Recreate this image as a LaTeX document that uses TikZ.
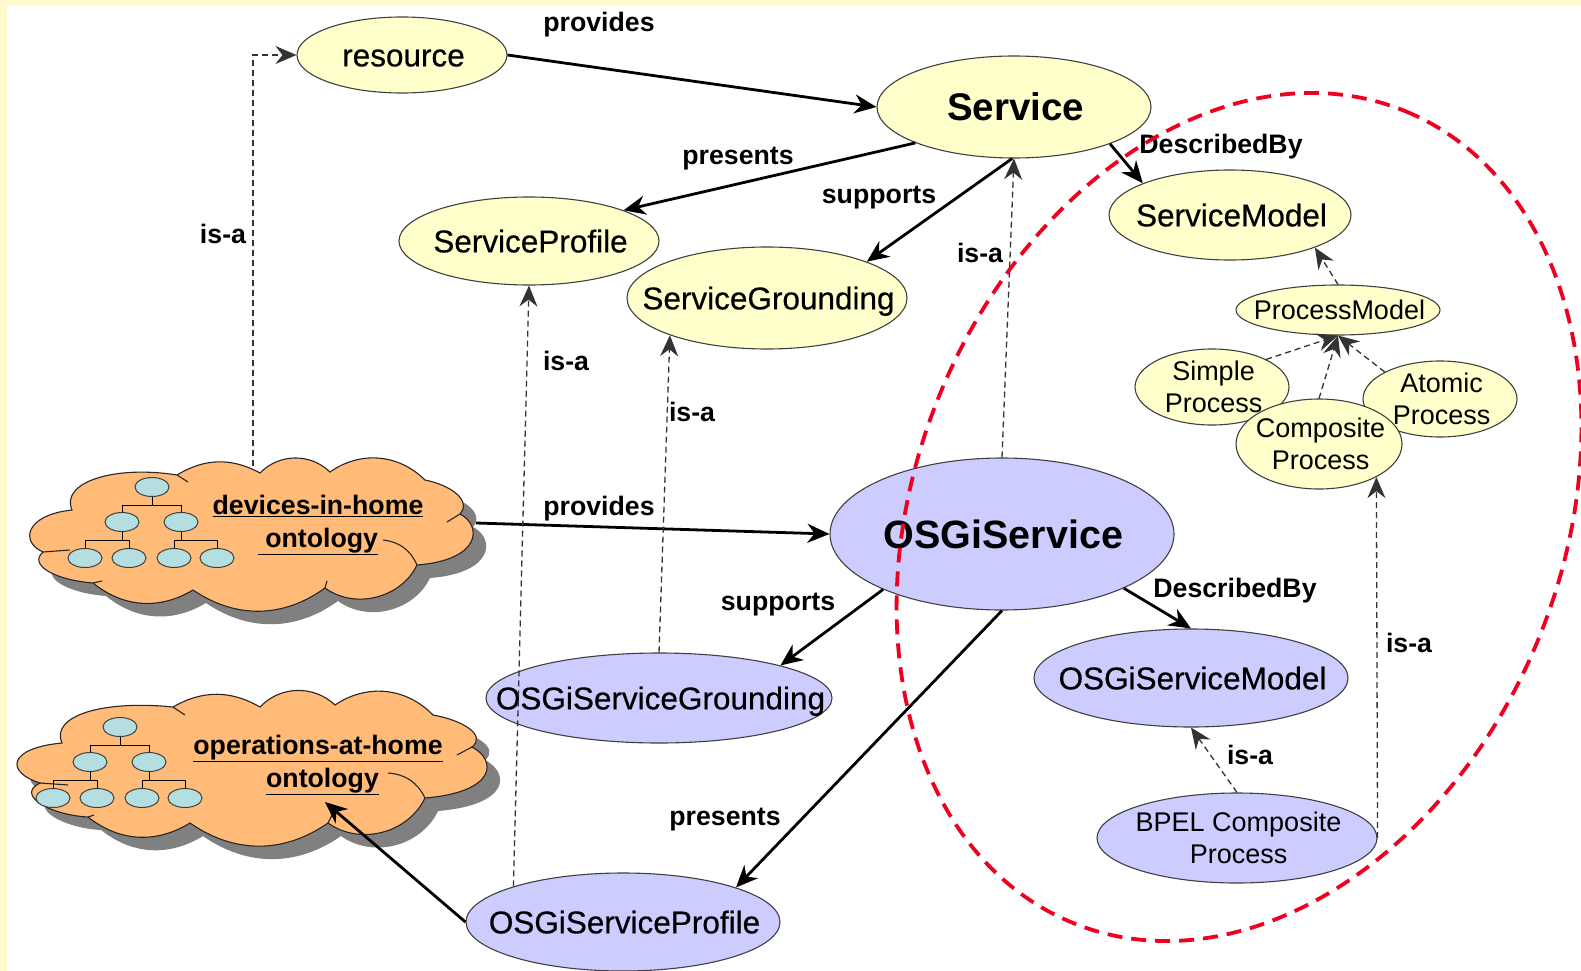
\documentclass[tikz,border=0pt]{standalone}
\usepackage{fontspec}
\setmainfont{Liberation Sans}
\newfontfamily\heavyfont[FakeBold=0.5]{Liberation Sans}
\usetikzlibrary{arrows.meta,shapes.geometric}
\definecolor{pageyellow}{HTML}{FFFBCC}
\definecolor{ovalyellow}{HTML}{FFFFCC}
\definecolor{ovalblue}{HTML}{CCCCFF}
\definecolor{cloudorange}{HTML}{FFBB77}
\definecolor{treeblue}{HTML}{B5DEE0}
\definecolor{ringred}{HTML}{F00020}
\newcommand{\ovaltext}[1]{\makebox[0pt]{\hspace{3pt}\raisebox{-.36em}[0pt][0pt]{#1}}}
\newcommand{\ovalpair}[2]{\makebox[0pt]{\hspace{3pt}\raisebox{-.36em}[0pt][0pt]{\begin{tabular}{@{}c@{}}#1\\#2\end{tabular}}}}
\newcommand{\devicespath}{(177,475) to[bend left=30] (260,473) to[bend left=45] (330,472) to[bend left=40] (425,480) .. controls (450,485) and (472,500) .. (460,514) .. controls (482,525) and (482,560) .. (417,565) to[bend left=50] (325,588) to[bend left=35] (193,590) to[bend left=35] (93,583) .. controls (55,580) and (28,565) .. (43,552) .. controls (20,542) and (25,515) .. (72,510) .. controls (60,482) and (115,465) .. (177,475) -- cycle}
\newcommand{\operationspath}{(173,707) to[bend left=30] (260,707) to[bend left=45] (335,705) to[bend left=40] (433,715) .. controls (462,720) and (487,735) .. (472,747) .. controls (497,760) and (497,792) .. (425,798) to[bend left=50] (328,823) to[bend left=35] (190,823) to[bend left=35] (88,817) .. controls (50,815) and (15,795) .. (40,783) .. controls (5,772) and (8,748) .. (62,743) .. controls (50,715) and (105,700) .. (173,707) -- cycle}
\newcommand{\minitree}[3]{%
  \begin{scope}[shift={(#2,#3)}]
    \draw (0,0) node[treeoval] (#1a){}
      (-30,35) node[treeoval] (#1b){}
      (29,35) node[treeoval] (#1c){}
      (-67,71) node[treeoval] (#1d){}
      (-23,71) node[treeoval] (#1e){}
      (22,71) node[treeoval] (#1f){}
      (65,71) node[treeoval] (#1g){};
    \foreach \up/\low in {a/b,a/c,b/d,b/e,c/f,c/g}
      \draw[line width=1pt] (#1\up.south) -- ++(0,8) -| (#1\low.north);
  \end{scope}}
\tikzset{
  plainoval/.style 2 args={shape=ellipse,draw=black!75,line width=1.1pt,inner sep=0pt,minimum width=#1pt,minimum height=#2pt},
  treeoval/.style={shape=ellipse,draw=black!75,line width=1pt,fill=treeblue,inner sep=0pt,minimum width=34pt,minimum height=19pt},
  edgelabel/.style={font=\bfseries\fontsize{26.7}{30}\selectfont,inner sep=0pt},
  bigtext/.style={font=\heavyfont\fontsize{31.5}{36}\selectfont},
  smalltext/.style={font=\fontsize{27}{32}\selectfont},
  cloudtext/.style={font=\bfseries\fontsize{26.7}{33}\selectfont,align=center,inner sep=0pt},
  isa/.style={-{Stealth[length=21pt,width=18pt,inset=7pt]},line width=1.3pt,draw=black!80,dash pattern=on 6pt off 4pt},
  relation/.style={-{Stealth[length=22pt,width=19pt,inset=7pt]},line width=2.8pt},
  tick/.style={line width=1.1pt,draw=black!85}
}
\begin{document}
\begin{tikzpicture}[x=1pt,y=-1pt]
  \useasboundingbox (0,0) rectangle (1581,971);
  \fill[pageyellow] (0,0) rectangle (1581,971);
  \fill[white] (7,6) rectangle (1581,971);
  \fill[black!50,shift={(13,13)}] \devicespath;
  \fill[black!50,shift={(13,13)}] \operationspath;
  \draw[fill=cloudorange,tick] \devicespath;
  \draw[fill=cloudorange,tick] \operationspath;
  \draw[tick] (177,475) -- (188,482);
  \draw[tick] (460,514) -- (447,522);
  \draw[tick] (417,565) to[bend right=30] (383,540);
  \draw[tick] (325,588) -- (327,581);
  \draw[tick] (93,583) -- (102,581);
  \draw[tick] (43,552) -- (70,550);
  \draw[tick] (173,707) -- (185,715);
  \draw[tick] (472,747) -- (457,755);
  \draw[tick] (425,798) to[bend right=30] (388,773);
  \draw[tick] (328,823) -- (332,815);
  \draw[tick] (88,817) -- (94,815);
  \draw[tick] (40,783) -- (68,785);
  \minitree{dev}{152}{487}
  \minitree{ope}{120}{727}
  \draw
    (318,525) node[cloudtext] (devices){\underline{devices-in-home}\\\underline{\ ontology}}
    (318,765) node[cloudtext] (operations){\underline{operations-at-home}\\\hspace{9pt}\underline{ontology}};
  \coordinate (devicesup) at (253,466);
  \coordinate (devicesout) at (476,523);
  \coordinate (operationsin) at (325,802);
  \draw
    (402,55) node[plainoval={210}{76},fill=ovalyellow,bigtext] (resource){\ovaltext{resource}}
    (1014,107) node[plainoval={274}{102},fill=ovalyellow,font=\bfseries\fontsize{38.5}{44}\selectfont] (service){\ovaltext{Service}}
    (529,241) node[plainoval={260}{88},fill=ovalyellow,bigtext] (serviceprofile){\ovaltext{ServiceProfile}}
    (767,298) node[plainoval={280}{102},fill=ovalyellow,bigtext] (servicegrounding){\ovaltext{ServiceGrounding}}
    (1230,215) node[plainoval={242}{90},fill=ovalyellow,bigtext] (servicemodel){\ovaltext{ServiceModel}}
    (1338,310) node[plainoval={204}{50},fill=ovalyellow,smalltext] (processmodel){\ovaltext{ProcessModel}}
    (1212,387) node[plainoval={154}{76},fill=ovalyellow,smalltext] (simple){\ovalpair{Simple}{Process}}
    (1440,399) node[plainoval={154}{76},fill=ovalyellow,smalltext] (atomic){\ovalpair{Atomic}{Process}}
    (1319,444) node[plainoval={166}{90},fill=ovalyellow,smalltext] (composite){\ovalpair{Composite}{Process}}
    (1002,534) node[plainoval={344}{152},fill=ovalblue,font=\bfseries\fontsize{39.5}{44}\selectfont] (osgiservice){\ovaltext{OSGiService}}
    (659,698) node[plainoval={346}{90},fill=ovalblue,bigtext] (osgigrounding){\ovaltext{OSGiServiceGrounding}}
    (1191,678) node[plainoval={314}{98},fill=ovalblue,bigtext] (osgimodel){\ovaltext{OSGiServiceModel}}
    (1237,838) node[plainoval={280}{90},fill=ovalblue,smalltext] (bpel){\ovalpair{BPEL Composite}{Process}}
    (623,922) node[plainoval={314}{98},fill=ovalblue,bigtext] (osgiprofile){\ovaltext{OSGiServiceProfile}};
  \begin{scope}[relation]
    \draw (resource.east) to (service.west);
    \draw (service.200) to (serviceprofile.18);
    \draw (service.268) to (servicegrounding.20);
    \draw (service.-21) to (servicemodel.160);
    \draw (devicesout) to (osgiservice.west);
    \draw (osgiservice.205) to (osgigrounding.15);
    \draw (osgiservice.-24) to (osgimodel.90);
    \draw (osgiservice.270) to (osgiprofile.17);
    \draw (osgiprofile.180) to (operationsin);
  \end{scope}
  \begin{scope}[isa]
    \draw (devicesup) |- (resource.west);
    \draw (osgiservice.90) to (service.270);
    \draw (osgiprofile.162) to (serviceprofile.270);
    \draw (osgigrounding.90) to (servicegrounding.201);
    \draw (processmodel.90) to (servicemodel.-21);
    \draw (simple.27) to (processmodel.270);
    \draw (composite.90) to (processmodel.270);
    \draw (atomic.154) to (processmodel.270);
    \draw (bpel.90) to (osgimodel.270);
    \draw (bpel.east) to (composite.-30);
  \end{scope}
  \draw
    (599,25) node[edgelabel] (l1){provides}
    (738,159) node[edgelabel] (l2){presents}
    (879,198) node[edgelabel] (l3){supports}
    (1221,147) node[edgelabel] (l4){DescribedBy}
    (223,234) node[edgelabel] (l5){is-a}
    (980,253) node[edgelabel] (l6){is-a}
    (566,361) node[edgelabel] (l7){is-a}
    (692,412) node[edgelabel] (l8){is-a}
    (599,509) node[edgelabel] (l9){provides}
    (778,605) node[edgelabel] (l10){supports}
    (1235,591) node[edgelabel] (l11){DescribedBy}
    (1409,643) node[edgelabel] (l12){is-a}
    (1250,755) node[edgelabel] (l13){is-a}
    (725,820) node[edgelabel] (l14){presents};
  \draw[ringred,line width=3.8pt,dash pattern=on 15pt off 9pt,rotate around={67.7:(1239,517)}] (1239,517) ellipse [x radius=438.6,y radius=323.4];
\end{tikzpicture}
\end{document}
